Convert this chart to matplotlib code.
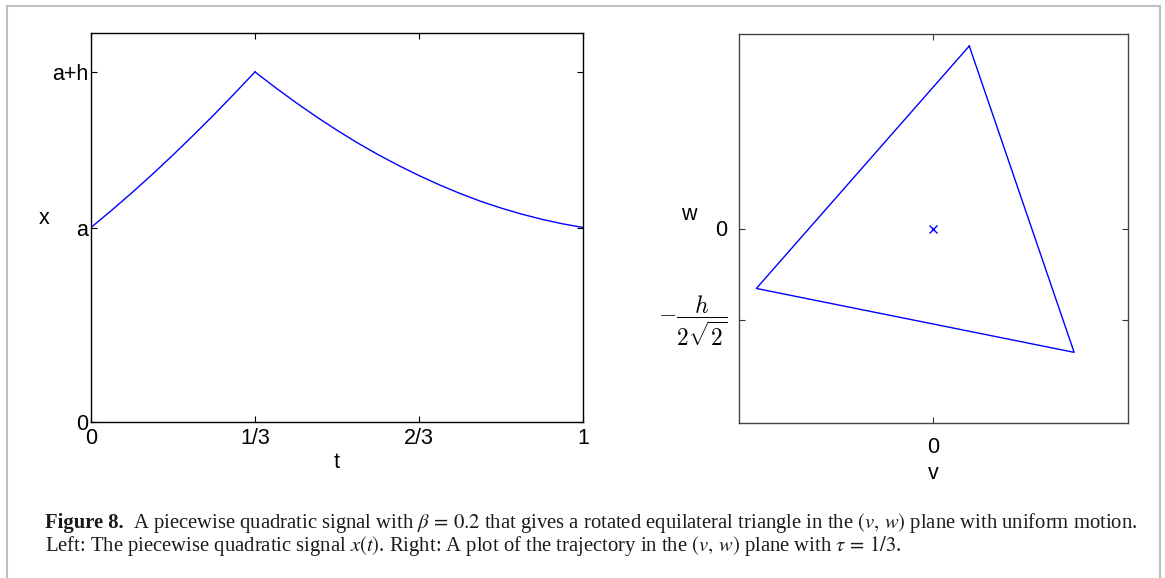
import matplotlib.pyplot as plt
from matplotlib.patches import Rectangle

# left panel: piecewise quadratic signal x(t), with a = 1, h = 0.8
t_up = [0.0, 0.0417, 0.0833, 0.125, 0.1667, 0.2083, 0.25, 0.2917, 0.3333]
x_up = [1.000, 1.088, 1.179, 1.274, 1.373, 1.475, 1.580, 1.689, 1.800]
t_down = [0.3333, 0.375, 0.4167, 0.4583, 0.5, 0.5417, 0.5833, 0.625, 0.6667,
          0.7083, 0.75, 0.7917, 0.8333, 0.875, 0.9167, 0.9583, 1.0]
x_down = [1.800, 1.719, 1.642, 1.569, 1.500, 1.435, 1.375, 1.319, 1.267,
          1.219, 1.175, 1.135, 1.100, 1.069, 1.042, 1.019, 1.000]
t_ticks = [0, 1 / 3, 2 / 3, 1]
t_ticklabels = ["0", "1/3", "2/3", "1"]
x_ticks = [0, 1.0, 1.8]
x_ticklabels = ["0", "a", "a+h"]

# right panel: trajectory in the (v, w) plane
v_tri = [0.111, 0.434, -0.545, 0.111]
w_tri = [0.563, -0.382, -0.185, 0.563]
centre = (0.0, 0.0)
w_ticks = [-0.2828, 0.0]
w_ticklabels = [r"$-\dfrac{h}{2\sqrt{2}}$", "0"]

blue = "#0000ff"
plt.rcParams["font.family"] = ["Liberation Sans", "DejaVu Sans"]

fig = plt.figure(figsize=(11.65, 5.78), dpi=100)
W, H = 1165, 578


def px_axes(left, top, right, bottom):
    return fig.add_axes([left / W, 1 - bottom / H, (right - left) / W, (bottom - top) / H])


# ---- left panel
ax1 = px_axes(91, 33, 583, 422)
ax1.plot(t_up, x_up, color=blue, lw=1.0)
ax1.plot(t_down, x_down, color=blue, lw=1.0)
ax1.set_xlim(0, 1)
ax1.set_ylim(0, 2)
ax1.set_xticks(t_ticks)
ax1.set_xticklabels(t_ticklabels)
ax1.set_yticks(x_ticks)
ax1.set_yticklabels(x_ticklabels)
ax1.tick_params(direction="in", length=4, width=0.8, top=True, right=True, labelsize=15.5, colors="black")
ax1.tick_params(axis="x", pad=4)
ax1.tick_params(axis="y", pad=2)
for s in ax1.spines.values():
    s.set_linewidth(1.0)
    s.set_color("black")
ax1.set_xlabel("t", fontsize=15.5, va="center")
ax1.xaxis.set_label_coords(0.5, -0.103)
ax1.set_ylabel("x", fontsize=15.5, rotation=0, ha="center", va="center")
ax1.yaxis.set_label_coords(-0.0955, 0.522)

# ---- right panel
ax2 = px_axes(738.5, 34, 1128, 423)
ax2.plot(v_tri, w_tri, color=blue, lw=1.0)
ax2.plot([centre[0]], [centre[1]], marker="x", color=blue, ms=6, mew=1.0, ls="none")
ax2.set_xlim(-0.6, 0.6)
ax2.set_ylim(-0.6, 0.6)
ax2.set_xticks([0])
ax2.set_xticklabels(["0"])
ax2.set_yticks(w_ticks)
ax2.set_yticklabels(w_ticklabels)
ax2.tick_params(direction="in", length=4, width=0.8, top=True, right=True, labelsize=15.5,
                colors="#333333", labelcolor="black")
ax2.tick_params(axis="x", pad=10)
ax2.tick_params(axis="y", pad=8)
frac_label = ax2.get_yticklabels()[0]
frac_label.set_math_fontfamily("cm")
frac_label.set_fontsize(17)
frac_label.set_va("center")
for s in ax2.spines.values():
    s.set_linewidth(1.0)
    s.set_color("#444444")
ax2.set_xlabel("v", fontsize=15.5, va="center")
ax2.xaxis.set_label_coords(0.5, -0.131)
ax2.set_ylabel("w", fontsize=15.5, rotation=0, ha="center", va="center")
ax2.yaxis.set_label_coords(-0.127, 0.535)

# ---- caption
cap = dict(fontsize=14.9, family=["Liberation Serif", "DejaVu Serif"], color="#1a1a1a",
           va="center", math_fontfamily="stix")
fig.text(45 / W, 1 - 523 / H, "Figure 8.", fontweight="bold", **cap)
fig.text(133 / W, 1 - 523 / H,
         r"A piecewise quadratic signal with $\beta\,=\,0.2$ that gives a rotated equilateral "
         r"triangle in the $(v,\,w)$ plane with uniform motion.", **cap)
fig.text(45 / W, 1 - 546 / H,
         r"Left: The piecewise quadratic signal $x(t)$. Right: A plot of the trajectory in the "
         r"$(v,\,w)$ plane with $\tau\,=\,1/3$.", **cap)

# grey frame round the figure
fig.patches.append(Rectangle((7 / W, -0.05), (1160 - 7) / W, 1 - 6 / H + 0.05,
                             transform=fig.transFigure, fill=False, ec="#c0c0c0", lw=1.5))

fig.savefig("out.png", dpi=100)
